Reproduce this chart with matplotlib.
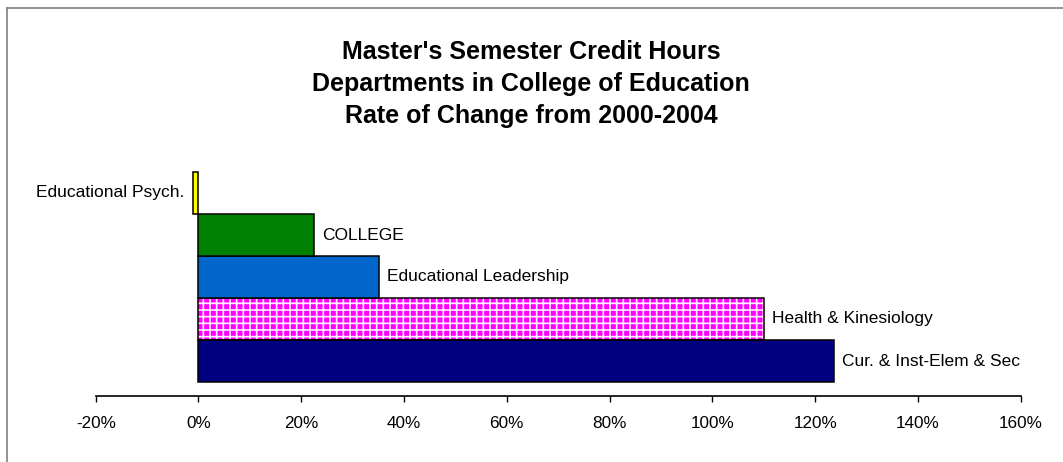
import matplotlib
matplotlib.use("Agg")
import matplotlib.pyplot as plt
from matplotlib.lines import Line2D
from matplotlib.ticker import FuncFormatter

DPI = 80
S = 100 / DPI  # size scale so that sizes match a 100-dpi layout

plt.rcParams['font.family'] = ['Liberation Sans', 'DejaVu Sans']
plt.rcParams['hatch.linewidth'] = 1.2 * S

# Data (bottom to top)
categories = ["Cur. & Inst-Elem & Sec", "Health & Kinesiology",
              "Educational Leadership", "COLLEGE", "Educational Psych."]
values = [123.7, 110.0, 35.2, 22.4, -1.1]
colors = ["#000080", "#FF00FF", "#0066CC", "#008000", "#FFFF00"]
hatches = [None, "++", None, None, None]
xticks = [-20, 0, 20, 40, 60, 80, 100, 120, 140, 160]

W, H = 1063, 462
fig = plt.figure(figsize=(W / DPI, H / DPI), dpi=DPI)
fig.patch.set_facecolor("white")

left_px, right_px = 95.7, 1020.7
bottom_px, top_px = 396, 158
ax = fig.add_axes([left_px / W, (H - bottom_px) / H,
                   (right_px - left_px) / W, (bottom_px - top_px) / H])

ypos = list(range(len(categories)))
for y, v, c, h, name in zip(ypos, values, colors, hatches, categories):
    if h:
        ax.barh(y, v, height=1.0, color=c, hatch=h, edgecolor="#FFF0FF",
                linewidth=0, zorder=2)
        ax.barh(y, v, height=1.0, fill=False, edgecolor="black",
                linewidth=1.1 * S, zorder=3)
    else:
        ax.barh(y, v, height=1.0, color=c, edgecolor="black",
                linewidth=1.1 * S, zorder=3)
    if v >= 0:
        ax.annotate(name, (v, y), xytext=(5.8 * S, 0),
                    textcoords="offset points", ha="left", va="center",
                    fontsize=12.5 * S, color="black")
    else:
        ax.annotate(name, (v, y), xytext=(-6 * S, 0),
                    textcoords="offset points", ha="right", va="center",
                    fontsize=12.5 * S, color="black")

ax.set_xlim(xticks[0], xticks[-1])
ax.set_ylim(-0.5 - 14 / 42, 4.5 + 14 / 42)
ax.set_xticks(xticks)
ax.xaxis.set_major_formatter(FuncFormatter(lambda x, p: f"{x:.0f}%"))
ax.tick_params(axis="x", direction="out", length=4.5 * S, width=1 * S,
               labelsize=12.3 * S, pad=10 * S, colors="black")
ax.set_yticks([])
for s in ["top", "right", "left"]:
    ax.spines[s].set_visible(False)
ax.spines["bottom"].set_linewidth(1.2 * S)
ax.set_facecolor("none")

# Title (three centred lines)
title_lines = ["Master's Semester Credit Hours",
               "Departments in College of Education",
               "Rate of Change from 2000-2004"]
baselines = [59, 91, 123]
for t, b in zip(title_lines, baselines):
    fig.text(531 / W, (H - b) / H, t, ha="center", va="baseline",
             fontsize=18 * S, fontweight="bold", color="black")

# Chart-area border (top and left edges visible)
fig.add_artist(Line2D([6.5 / W, 1.0], [(H - 7.5) / H] * 2,
                      color="#808080", linewidth=1.2 * S))
fig.add_artist(Line2D([6.5 / W] * 2, [(H - 7.5) / H, 0],
                      color="#808080", linewidth=1.2 * S))

fig.savefig("out.png", dpi=DPI, facecolor="white")
